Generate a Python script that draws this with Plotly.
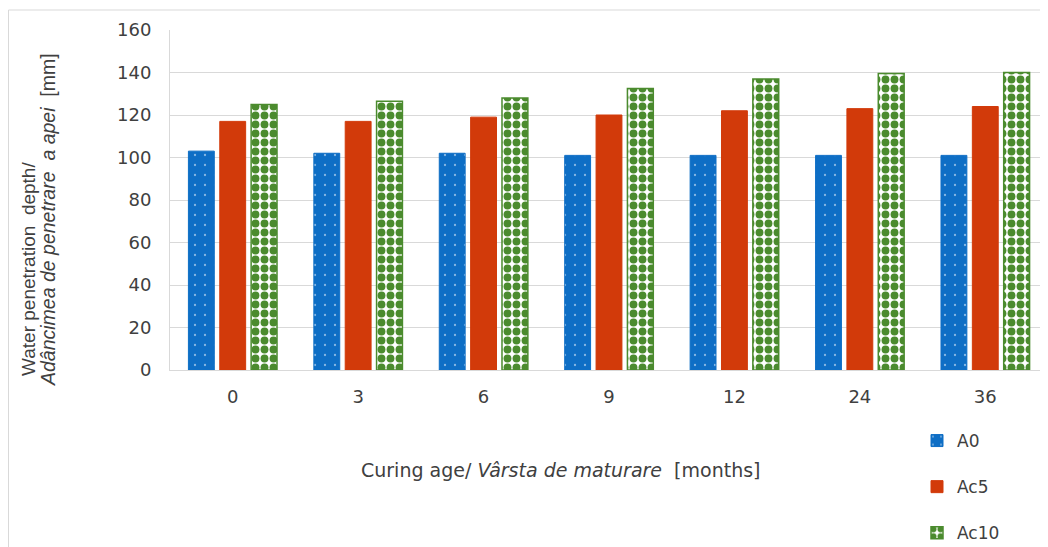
import plotly.graph_objects as go

categories = ["0", "3", "6", "9", "12", "24", "36"]
a0 = [103, 102, 102, 101, 101, 101, 101]
ac5 = [117, 117, 119, 120, 122, 123, 124]
ac10 = [125, 126.5, 128, 132.5, 137, 139.5, 140]
y_ticks = [0, 20, 40, 60, 80, 100, 120, 140, 160]

OFF = 8  # page body margin offset of the figure
W, H = 1048 - OFF, 547 - OFF
L, R, T, B = 170 - OFF, 0, 30 - OFF, H - (370 - OFF)
pw, ph = W - L - R, H - T - B
HFONT = "DejaVu Sans, Liberation Sans, sans-serif"
VFONT = "Liberation Sans, Arial, sans-serif"
TXT = "#404040"


def px_x(px):
    return (px - OFF - L) / pw


def px_y(py):
    return (H - B - (py - OFF)) / ph


fig = go.Figure()
fig.add_trace(go.Bar(
    x=categories, y=a0, name="A0", legendgroup="a",
    marker=dict(color="#0E6EC5", line=dict(color="#0E6EC5", width=1),
                pattern=dict(shape=".", fgcolor="white", bgcolor="#0E6EC5", size=10, solidity=0.04)),
))
fig.add_trace(go.Bar(
    x=categories, y=ac5, name="Ac5", legendgroup="b",
    marker=dict(color="#D23A0A", line=dict(color="#D23A0A", width=1)),
))
fig.add_trace(go.Bar(
    x=categories, y=ac10, name="Ac10", legendgroup="c",
    marker=dict(color="white", line=dict(color="#4B8B2E", width=1.5),
                pattern=dict(shape=".", fgcolor="#4B8B2E", bgcolor="white", size=9, solidity=0.6, fillmode="replace")),
))

fig.update_layout(
    width=W, height=H,
    margin=dict(l=L, r=R, t=T, b=B, autoexpand=False),
    paper_bgcolor="white", plot_bgcolor="white",
    font=dict(family=HFONT, size=18, color=TXT),
    barmode="group", bargap=0.25, bargroupgap=0.175,
    showlegend=True,
    legend=dict(x=px_x(917), y=px_y(423), xanchor="left", yanchor="top",
                tracegroupgap=21, font=dict(family=HFONT, size=17, color=TXT),
                itemwidth=30, bgcolor="rgba(0,0,0,0)"),
    xaxis=dict(type="category", showgrid=False, showline=True, linecolor="#D9D9D9",
               ticks="", ticklabelstandoff=10, tickfont=dict(family=HFONT, size=18, color=TXT),
               range=[-0.5, 6.5]),
    yaxis=dict(range=[0, 160], tickvals=y_ticks, showgrid=True, gridcolor="#D9D9D9",
               showline=True, linecolor="#D9D9D9", ticks="", ticklabelstandoff=14,
               zeroline=False, tickfont=dict(family=HFONT, size=18, color=TXT)),
)

fig.add_annotation(
    text="Water penetration  depth/",
    xref="paper", yref="paper", x=px_x(28), y=px_y(269),
    textangle=-90, showarrow=False, font=dict(family=VFONT, size=19, color=TXT),
    xanchor="center", yanchor="middle",
)
fig.add_annotation(
    text="<i>Adâncimea de penetrare  a apei</i>  [mm]",
    xref="paper", yref="paper", x=px_x(48), y=px_y(220),
    textangle=-90, showarrow=False, font=dict(family=VFONT, size=19.5, color=TXT),
    xanchor="center", yanchor="middle",
)
fig.add_annotation(
    text="Curing age/ <i>Vârsta de maturare</i>  [months]",
    xref="paper", yref="paper", x=px_x(561), y=px_y(470),
    showarrow=False, font=dict(family=HFONT, size=19, color=TXT), xanchor="center", yanchor="middle",
)
fig.add_shape(
    type="rect", xref="paper", yref="paper",
    x0=px_x(8.5), x1=px_x(1048 + 20), y0=px_y(547 + 20), y1=px_y(10),
    line=dict(color="#D9D9D9", width=1), fillcolor="rgba(0,0,0,0)", layer="below",
)

fig.write_html("out.html")
